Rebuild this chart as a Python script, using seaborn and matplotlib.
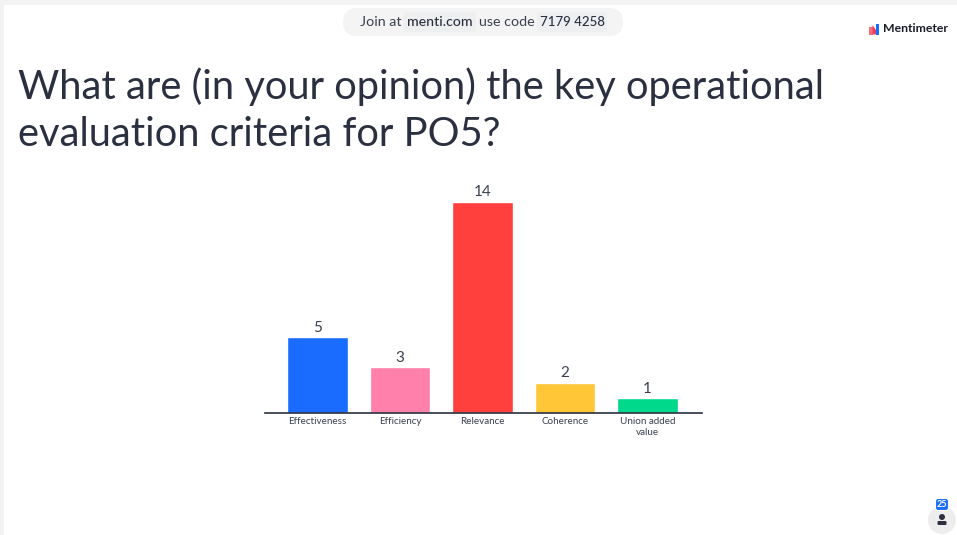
import matplotlib
matplotlib.use("Agg")
import matplotlib.pyplot as plt
from matplotlib.patches import FancyBboxPatch, Rectangle, Circle, Polygon
import seaborn as sns
import pandas as pd

categories = ["Effectiveness", "Efficiency", "Relevance", "Coherence", "Union added\nvalue"]
votes = [5, 3, 14, 2, 1]
colors = ["#196CFF", "#FF80AB", "#FF403D", "#FFC738", "#00D98B"]
title = "What are (in your opinion) the key operational\nevaluation criteria for PO5?"

sns.set_theme(style="white")
plt.rcParams["font.family"] = ["Lato", "DejaVu Sans"]
W, H = 957, 535
INK = "#2A3040"

fig = plt.figure(figsize=(W / 100, H / 100), dpi=100, facecolor="white")

# overlay in pixel coordinates
ov = fig.add_axes([0, 0, 1, 1], zorder=0)
ov.set_xlim(0, W); ov.set_ylim(H, 0); ov.axis("off")
ov.add_patch(Rectangle((0, 0), W, 4.5, fc="#F3F3F3", ec="none"))
ov.add_patch(Rectangle((0, 0), 3.5, H, fc="#F3F3F3", ec="none"))
ov.add_patch(FancyBboxPatch((343, 8), 280, 28, boxstyle="round,pad=0,rounding_size=14",
                            fc="#F4F4F5", ec="none", mutation_aspect=1))
ov.add_patch(FancyBboxPatch((403, 12), 73, 20, boxstyle="round,pad=0,rounding_size=4", fc="#EEEFF1", ec="none"))
ov.add_patch(FancyBboxPatch((537, 12), 70, 20, boxstyle="round,pad=0,rounding_size=4", fc="#EEEFF1", ec="none"))
ov.text(360, 21.5, "Join at", fontsize=10.3, color="#3A4050", va="center", ha="left")
ov.text(440, 21.5, "menti.com", fontsize=10.2, color=INK, va="center", ha="center", fontweight="medium")
ov.text(479, 21.5, "use code", fontsize=10.3, color="#3A4050", va="center", ha="left")
ov.text(572.5, 21.5, "7179 4258", fontsize=9.5, color=INK, va="center", ha="center", fontweight="medium")

# logo
ov.add_patch(Rectangle((869, 27), 3.5, 7.5, fc="#FF6B7A", ec="none"))
ov.add_patch(Polygon([(872.5, 25), (876, 30), (876, 34.5), (872.5, 34.5)], fc="#E0455F", ec="none"))
ov.add_patch(Rectangle((875.5, 24), 3.5, 10.5, fc="#196CFF", ec="none"))
ov.text(883, 29, "Mentimeter", fontsize=8.8, color="#1A1D28", va="center", ha="left", fontweight="bold")

# title
ov.text(18, 110.5, title, fontsize=28.75, color=INK, va="center", ha="left", linespacing=1.33)

# participant badge
ov.add_patch(Circle((942, 520), 14, fc="#EDEDED", ec="none"))
ov.add_patch(FancyBboxPatch((935.5, 498.5), 13, 12, boxstyle="round,pad=0,rounding_size=2.5", fc="#196CFF", ec="white", lw=0.8))
ov.text(942, 504.6, "25", fontsize=6.5, color="white", va="center", ha="center", fontweight="bold")
ov.add_patch(Circle((942, 517), 3, fc="#2A3040", ec="none"))
ov.add_patch(FancyBboxPatch((937.5, 521), 9, 4, boxstyle="round,pad=0,rounding_size=1.2", fc="#2A3040", ec="none"))

# chart
x0, x1, base, top = 265, 702, 412.7, 170
ax = fig.add_axes([x0 / W, 1 - base / H, (x1 - x0) / W, (base - top) / H], zorder=1)
ax.patch.set_alpha(0)
df = pd.DataFrame({"category": categories, "votes": votes})
sns.barplot(data=df, x="category", y="votes", hue="category", palette=colors, legend=False,
            width=60.5 / 82.5, saturation=1, ax=ax)
ax.set_xlim((x0 - 317.7) / 82.5, (x1 - 317.7) / 82.5)
ax.set_ylim(0, (base - top) / 15.08)
ax.set_xlabel(""); ax.set_ylabel(""); ax.set_yticks([])
for s in ("top", "left", "right"):
    ax.spines[s].set_visible(False)
ax.spines["bottom"].set_color("#2A3040")
ax.spines["bottom"].set_linewidth(1.2)
ax.tick_params(axis="x", length=0, pad=3, labelsize=7.1, labelcolor="#3A4050")
for c in ax.containers:
    ax.bar_label(c, padding=1.5, fontsize=11, color="#3A4050")
for lab in ax.get_xticklabels():
    lab.set_linespacing(1.25)

fig.savefig("out.png", dpi=100, facecolor="white")
